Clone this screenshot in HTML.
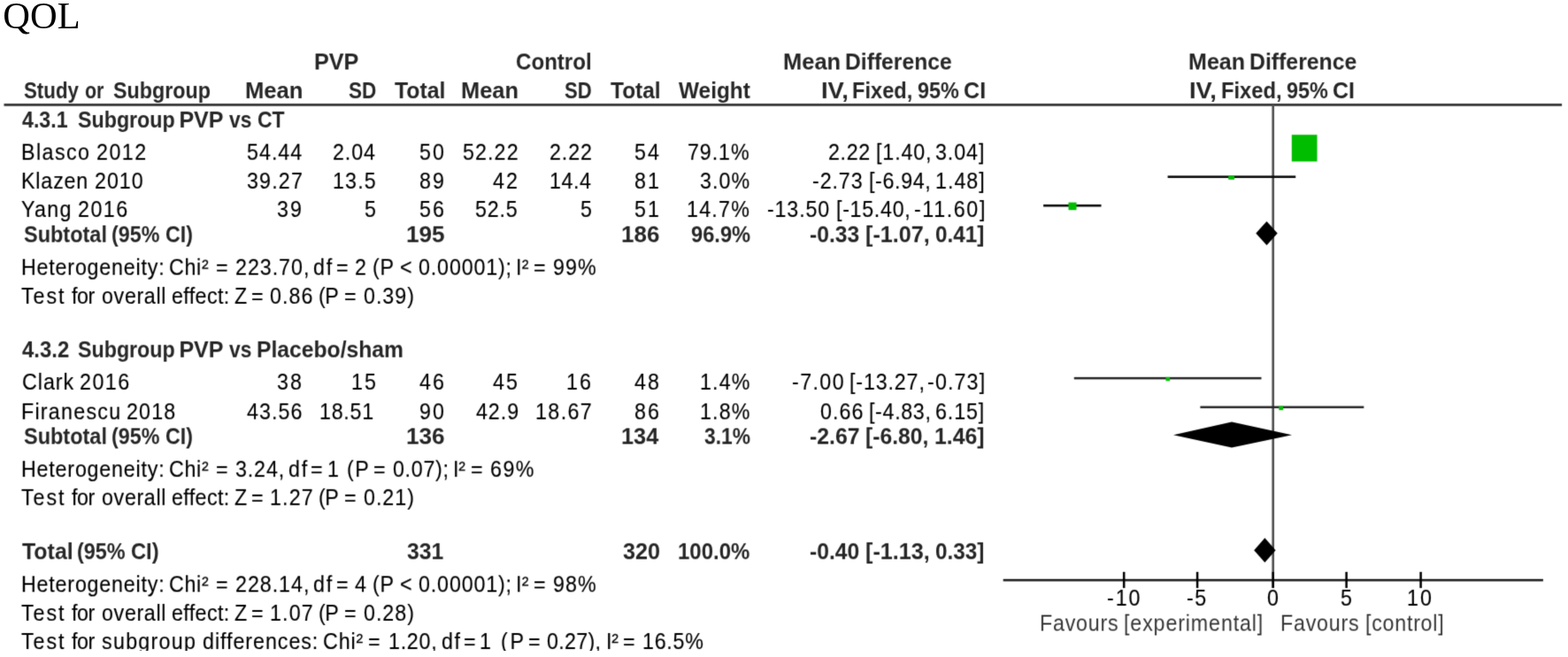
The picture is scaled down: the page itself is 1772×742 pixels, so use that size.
<!DOCTYPE html>
<html lang="en">
<head>
<meta charset="utf-8">
<title>QOL forest plot</title>
<style>
html,body{margin:0;padding:0;background:#fff;}
body{width:1772px;height:742px;overflow:hidden;}
#sheet{position:relative;width:1772px;height:742px;overflow:hidden;background:#fff;}
.title{position:absolute;z-index:2;margin:0;left:3.3px;top:-5px;font:normal 42.5px/46px "Liberation Serif","Times New Roman",serif;color:#000;white-space:nowrap;}
#fig{position:absolute;left:0;top:0;width:1772px;height:735px;overflow:hidden;background:#fff;font-family:"Liberation Sans",Arial,Helvetica,sans-serif;font-size:25px;line-height:30px;}
#fig svg{position:absolute;left:0;top:0;}
.g{position:absolute;left:0;top:0;width:0;height:0;}
.g span{position:absolute;white-space:pre;transform-origin:0 0;color:#000;-webkit-text-stroke:0.15px #000;}
.g span.b{font-weight:bold;font-size:25px;color:#262626;-webkit-text-stroke:0;}
.g span.axis{color:#000;-webkit-text-stroke-color:#000;}
.g span.fav{color:#363636;-webkit-text-stroke:0;}
.defs{position:absolute;left:0;top:0;}
.layer{position:absolute;left:0;top:0;width:1772px;height:742px;}
.layer.n{filter:url(#soft);}
.layer.h{filter:url(#softh);}

</style>
</head>
<body>
<svg class="defs" width="0" height="0" aria-hidden="true"><defs>
<filter id="soft" x="0" y="0" width="100%" height="100%" color-interpolation-filters="sRGB">
<feConvolveMatrix order="3" kernelMatrix="1 6 1 6 36 6 1 6 1" divisor="64" edgeMode="none" preserveAlpha="false"/>
</filter>
<filter id="softh" x="0" y="0" width="100%" height="100%" color-interpolation-filters="sRGB">
<feConvolveMatrix order="3" kernelMatrix="0 0 0 1 6 1 1 6 1" divisor="16" edgeMode="none" preserveAlpha="false"/>
</filter></defs></svg>
<div id="sheet">
<h1 class="title">QOL</h1>
<div id="fig">
<div class="layer n">
<svg width="1772" height="742" viewBox="0 0 1772 742" role="img" aria-label="Forest plot">
<rect x="4.5" y="117" width="1760.6" height="2.8" fill="#363636"/>
<rect x="1437.4" y="118" width="2.6" height="546" fill="#4e4e4e"/>
<rect x="1133.7" y="653.9" width="610.2" height="2.6" fill="#222"/>
<g fill="#000">
<rect x="1268.95" y="645.9" width="2.5" height="18.2"/>
<rect x="1351.85" y="645.9" width="2.5" height="18.2"/>
<rect x="1437.45" y="645.9" width="2.5" height="18.2"/>
<rect x="1520.35" y="645.9" width="2.5" height="18.2"/>
<rect x="1604.35" y="645.9" width="2.5" height="18.2"/>
</g>
<g fill="#0a0a0a">
<rect x="1319.6" y="198.4" width="144.6" height="2.6"/>
<rect x="1179.1" y="230.9" width="65.4" height="2.6"/>
</g>
<g fill="#262626">
<rect x="1213.8" y="425.9" width="211.7" height="2.5"/>
<rect x="1356.4" y="458.6" width="184.9" height="2.5"/>
</g>
<g fill="#00bd00">
<rect x="1459.8" y="152.2" width="28.7" height="30.2"/>
<rect x="1388.2" y="198.4" width="6.8" height="4.4"/>
<rect x="1207.5" y="228.6" width="9" height="8.6"/>
<rect x="1317.5" y="425.8" width="4.6" height="4.4"/>
<rect x="1445.3" y="458.6" width="4.8" height="4.6"/>
</g>
<g fill="#000">
<polygon points="1419.3,263.4 1431.5,249.9 1443.7,263.4 1431.5,276.9"/>
<polygon points="1326,491.3 1392,476.6 1460,491.3 1392,505.5"/>
<polygon points="1417.2,621.4 1429.4,607.5 1441.6,621.4 1429.4,635.3"/>
</g>
</svg>

</div>
<div class="layer h">
<div class="g"><span class="b" style="left:355.09px;top:54px;transform:scaleX(1.0064)">PVP</span> <span class="b" style="left:582.54px;top:54px;transform:scaleX(0.9640)">Control</span> <span class="b" style="left:884.96px;top:54px;transform:scaleX(1.0200)">Mean</span> <span class="b" style="left:955.43px;top:54px;transform:scaleX(0.9866)">Difference</span> <span class="b" style="left:1342.79px;top:54px;transform:scaleX(1.0033)">Mean</span> <span class="b" style="left:1412.22px;top:54px;transform:scaleX(0.9924)">Difference</span></div>
</div>
<div class="layer n">
<div class="g"><span class="b" style="left:26.71px;top:87px;transform:scaleX(0.8912)">Study</span> <span class="b" style="left:96.15px;top:87px;transform:scaleX(0.8542)">or</span> <span class="b" style="left:128.27px;top:87px;transform:scaleX(0.9310)">Subgroup</span> <span class="b" style="left:277.15px;top:87px;transform:scaleX(1.0250)">Mean</span> <span class="b" style="left:394.10px;top:87px;transform:scaleX(0.9000)">SD</span> <span class="b" style="left:446.10px;top:87px;transform:scaleX(0.9911)">Total</span> <span class="b" style="left:521.17px;top:87px;transform:scaleX(1.0167)">Mean</span> <span class="b" style="left:638.22px;top:87px;transform:scaleX(0.8818)">SD</span> <span class="b" style="left:690.40px;top:87px;transform:scaleX(0.9786)">Total</span> <span class="b" style="left:767.00px;top:87px;transform:scaleX(0.9759)">Weight</span> <span class="b" style="left:928.11px;top:87px;transform:scaleX(1.0960)">IV,</span> <span class="b" style="left:963.01px;top:87px;transform:scaleX(0.9449)">Fixed,</span> <span class="b" style="left:1037.06px;top:87px;transform:scaleX(0.9375)">95%</span> <span class="b" style="left:1089.10px;top:87px">CI</span> <span class="b" style="left:1344.32px;top:87px;transform:scaleX(1.0920)">IV,</span> <span class="b" style="left:1379.50px;top:87px;transform:scaleX(0.9507)">Fixed,</span> <span class="b" style="left:1453.86px;top:87px;transform:scaleX(0.9375)">95%</span> <span class="b" style="left:1506.00px;top:87px;transform:scaleX(0.9955)">CI</span></div>
<div class="g"><span class="b" style="left:25.00px;top:120px;transform:scaleX(0.9273)">4.3.1</span> <span class="b" style="left:87.57px;top:120px;transform:scaleX(0.9293)">Subgroup</span> <span class="b" style="left:202.40px;top:120px">PVP</span> <span class="b" style="left:259.20px;top:120px;transform:scaleX(0.9111)">vs</span> <span class="b" style="left:290.78px;top:120px;transform:scaleX(0.9188)">CT</span></div>
</div>
<div class="layer h">
<div class="g"><span class="r" style="left:24.44px;top:156px;letter-spacing:1.535px;transform:scaleX(0.9300)">Blasco</span> <span class="r" style="left:108.67px;top:156px;letter-spacing:1.616px;transform:scaleX(0.9300)">2012</span></div>
<div class="g"><span class="r" style="left:278.57px;top:156px;letter-spacing:1.094px;transform:scaleX(0.9300)">54.44</span></div>
<div class="g"><span class="r" style="left:376.37px;top:156px;letter-spacing:0.964px;transform:scaleX(0.9300)">2.04</span></div>
<div class="g"><span class="r" style="left:473.87px;top:156px;letter-spacing:2.280px;transform:scaleX(0.9300)">50</span></div>
<div class="g"><span class="r" style="left:522.97px;top:156px;letter-spacing:1.183px;transform:scaleX(0.9300)">52.22</span></div>
<div class="g"><span class="r" style="left:621.17px;top:156px;letter-spacing:0.975px;transform:scaleX(0.9300)">2.22</span></div>
<div class="g"><span class="r" style="left:716.87px;top:156px;letter-spacing:2.280px;transform:scaleX(0.9300)">54</span></div>
<div class="g"><span class="r" style="left:777.47px;top:156px;letter-spacing:1.003px;transform:scaleX(0.9300)">79.1%</span></div>
<div class="g"><span class="r" style="left:935.97px;top:156px;letter-spacing:0.688px;transform:scaleX(0.9300)">2.22</span> <span class="r" style="left:989.74px;top:156px;letter-spacing:0.938px;transform:scaleX(0.9300)">[1.40,</span> <span class="r" style="left:1057.27px;top:156px;letter-spacing:0.997px;transform:scaleX(0.9300)">3.04]</span></div>
</div>
<div class="layer n">
<div class="g"><span class="r" style="left:24.44px;top:189px;letter-spacing:0.905px;transform:scaleX(0.9300)">Klazen</span> <span class="r" style="left:107.27px;top:189px;letter-spacing:1.032px;transform:scaleX(0.9300)">2010</span></div>
<div class="g"><span class="r" style="left:278.87px;top:189px;letter-spacing:1.263px;transform:scaleX(0.9300)">39.27</span></div>
<div class="g"><span class="r" style="left:375.64px;top:189px;letter-spacing:1.226px;transform:scaleX(0.9300)">13.5</span></div>
<div class="g"><span class="r" style="left:473.87px;top:189px;letter-spacing:2.280px;transform:scaleX(0.9300)">89</span></div>
<div class="g"><span class="r" style="left:556.87px;top:189px;letter-spacing:2.280px;transform:scaleX(0.9300)">42</span></div>
<div class="g"><span class="r" style="left:620.64px;top:189px;letter-spacing:0.616px;transform:scaleX(0.9300)">14.4</span></div>
<div class="g"><span class="r" style="left:716.87px;top:189px;letter-spacing:2.280px;transform:scaleX(0.9300)">81</span></div>
<div class="g"><span class="r" style="left:790.97px;top:189px;letter-spacing:1.165px;transform:scaleX(0.9300)">3.0%</span></div>
<div class="g"><span class="r" style="left:917.97px;top:189px;letter-spacing:0.981px;transform:scaleX(0.9300)">-2.73</span> <span class="r" style="left:981.84px;top:189px;letter-spacing:0.697px;transform:scaleX(0.9300)">[-6.94,</span> <span class="r" style="left:1056.94px;top:189px;letter-spacing:1.086px;transform:scaleX(0.9300)">1.48]</span></div>
<div class="g"><span class="r" style="left:24.37px;top:221px;letter-spacing:1.391px;transform:scaleX(0.9300)">Yang</span> <span class="r" style="left:88.37px;top:221px;letter-spacing:1.616px;transform:scaleX(0.9300)">2016</span></div>
<div class="g"><span class="r" style="left:313.07px;top:221px;letter-spacing:2.280px;transform:scaleX(0.9300)">39</span></div>
<div class="g"><span class="r" style="left:411.61px;top:221px;transform:scaleX(0.9300)">5</span></div>
<div class="g"><span class="r" style="left:473.87px;top:221px;letter-spacing:2.280px;transform:scaleX(0.9300)">56</span></div>
<div class="g"><span class="r" style="left:537.07px;top:221px;letter-spacing:0.857px;transform:scaleX(0.9300)">52.5</span></div>
<div class="g"><span class="r" style="left:655.51px;top:221px;transform:scaleX(0.9300)">5</span></div>
<div class="g"><span class="r" style="left:716.87px;top:221px;letter-spacing:2.280px;transform:scaleX(0.9300)">51</span></div>
<div class="g"><span class="r" style="left:776.24px;top:221px;letter-spacing:1.333px;transform:scaleX(0.9300)">14.7%</span></div>
<div class="g"><span class="r" style="left:866.67px;top:221px;letter-spacing:0.910px;transform:scaleX(0.9300)">-13.50</span> <span class="r" style="left:945.04px;top:221px;letter-spacing:0.753px;transform:scaleX(0.9300)">[-15.40,</span> <span class="r" style="left:1032.67px;top:221px;letter-spacing:1.740px;transform:scaleX(0.9300)">-11.60]</span></div>
</div>
<div class="layer h">
<div class="g"><span class="b" style="left:26.66px;top:249px;transform:scaleX(0.9392)">Subtotal</span> <span class="b" style="left:126.27px;top:249px;transform:scaleX(0.9316)">(95%</span> <span class="b" style="left:186.57px;top:249px;transform:scaleX(0.9258)">CI)</span></div>
<div class="g"><span class="b" style="left:459.01px;top:249px;transform:scaleX(1.0462)">195</span></div>
<div class="g"><span class="b" style="left:702.42px;top:249px;transform:scaleX(1.0385)">186</span></div>
<div class="g"><span class="b" style="left:780.55px;top:249px;transform:scaleX(0.9478)">96.9%</span></div>
<div class="g"><span class="b" style="left:914.91px;top:249px;transform:scaleX(0.9873)">-0.33</span> <span class="b" style="left:978.29px;top:249px;transform:scaleX(1.0086)">[-1.07,</span> <span class="b" style="left:1056.83px;top:249px;transform:scaleX(0.9709)">0.41]</span></div>
<div class="g"><span class="r" style="left:24.44px;top:286px;letter-spacing:0.865px;transform:scaleX(0.9300)">Heterogeneity:</span> <span class="r" style="left:191.27px;top:286px;letter-spacing:0.746px;transform:scaleX(0.9300)">Chi&sup2;</span> <span class="r" style="left:243.94px;top:286px;transform:scaleX(0.9300)">=</span> <span class="r" style="left:265.67px;top:286px;letter-spacing:1.039px;transform:scaleX(0.9300)">223.70,</span> <span class="r" style="left:354.37px;top:286px;letter-spacing:1.828px;transform:scaleX(0.9300)">df</span> <span class="r" style="left:379.79px;top:286px;transform:scaleX(0.9300)">=</span> <span class="r" style="left:401.44px;top:286px;transform:scaleX(0.9300)">2</span> <span class="r" style="left:421.24px;top:286px;letter-spacing:0.796px;transform:scaleX(0.9300)">(P</span> <span class="r" style="left:452.49px;top:286px;transform:scaleX(0.9300)">&lt;</span> <span class="r" style="left:472.57px;top:286px;letter-spacing:0.919px;transform:scaleX(0.9300)">0.00001);</span> <span class="r" style="left:583.24px;top:286px;letter-spacing:0.441px;transform:scaleX(0.9300)">I&sup2;</span> <span class="r" style="left:603.49px;top:286px;transform:scaleX(0.9300)">=</span> <span class="r" style="left:625.47px;top:286px;letter-spacing:1.161px;transform:scaleX(0.9300)">99%</span></div>
</div>
<div class="layer n">
<div class="g"><span class="r" style="left:23.97px;top:319px;letter-spacing:2.097px;transform:scaleX(0.9300)">Test</span> <span class="r" style="left:80.50px;top:319px;letter-spacing:-0.522px;transform:scaleX(0.9300)">for</span> <span class="r" style="left:114.77px;top:319px;letter-spacing:0.711px;transform:scaleX(0.9300)">overall</span> <span class="r" style="left:193.97px;top:319px;letter-spacing:0.427px;transform:scaleX(0.9300)">effect:</span> <span class="r" style="left:264.52px;top:319px;transform:scaleX(0.9300)">Z</span> <span class="r" style="left:284.29px;top:319px;transform:scaleX(0.9300)">=</span> <span class="r" style="left:305.37px;top:319px;letter-spacing:1.118px;transform:scaleX(0.9300)">0.86</span> <span class="r" style="left:360.24px;top:319px;letter-spacing:-0.602px;transform:scaleX(0.9300)">(P</span> <span class="r" style="left:389.29px;top:319px;transform:scaleX(0.9300)">=</span> <span class="r" style="left:411.27px;top:319px;letter-spacing:1.043px;transform:scaleX(0.9300)">0.39)</span></div>
</div>
<div class="layer h">
<div class="g"><span class="b" style="left:25.00px;top:379px;transform:scaleX(0.9564)">4.3.2</span> <span class="b" style="left:87.57px;top:379px;transform:scaleX(0.9293)">Subgroup</span> <span class="b" style="left:202.40px;top:379px">PVP</span> <span class="b" style="left:259.20px;top:379px;transform:scaleX(0.9111)">vs</span> <span class="b" style="left:290.33px;top:379px;transform:scaleX(0.9873)">Placebo/sham</span></div>
</div>
<div class="layer n">
<div class="g"><span class="r" style="left:24.97px;top:416px;letter-spacing:1.046px;transform:scaleX(0.9300)">Clark</span> <span class="r" style="left:90.37px;top:416px;letter-spacing:1.616px;transform:scaleX(0.9300)">2016</span></div>
<div class="g"><span class="r" style="left:313.07px;top:416px;letter-spacing:2.280px;transform:scaleX(0.9300)">38</span></div>
<div class="g"><span class="r" style="left:396.54px;top:416px;letter-spacing:2.204px;transform:scaleX(0.9300)">15</span></div>
<div class="g"><span class="r" style="left:473.87px;top:416px;letter-spacing:2.280px;transform:scaleX(0.9300)">46</span></div>
<div class="g"><span class="r" style="left:556.87px;top:416px;letter-spacing:2.280px;transform:scaleX(0.9300)">45</span></div>
<div class="g"><span class="r" style="left:640.44px;top:416px;letter-spacing:2.204px;transform:scaleX(0.9300)">16</span></div>
<div class="g"><span class="r" style="left:716.87px;top:416px;letter-spacing:2.280px;transform:scaleX(0.9300)">48</span></div>
<div class="g"><span class="r" style="left:790.84px;top:416px;letter-spacing:1.211px;transform:scaleX(0.9300)">1.4%</span></div>
<div class="g"><span class="r" style="left:895.27px;top:416px;letter-spacing:1.519px;transform:scaleX(0.9300)">-7.00</span> <span class="r" style="left:959.54px;top:416px;letter-spacing:0.922px;transform:scaleX(0.9300)">[-13.27,</span> <span class="r" style="left:1047.87px;top:416px;letter-spacing:1.219px;transform:scaleX(0.9300)">-0.73]</span></div>
</div>
<div class="layer h">
<div class="g"><span class="r" style="left:24.44px;top:449px;letter-spacing:1.347px;transform:scaleX(0.9300)">Firanescu</span> <span class="r" style="left:143.17px;top:449px;letter-spacing:1.283px;transform:scaleX(0.9300)">2018</span></div>
<div class="g"><span class="r" style="left:279.27px;top:449px;letter-spacing:1.156px;transform:scaleX(0.9300)">43.56</span></div>
<div class="g"><span class="r" style="left:361.14px;top:449px;letter-spacing:0.788px;transform:scaleX(0.9300)">18.51</span></div>
<div class="g"><span class="r" style="left:473.87px;top:449px;letter-spacing:2.280px;transform:scaleX(0.9300)">90</span></div>
<div class="g"><span class="r" style="left:537.57px;top:449px;letter-spacing:1.011px;transform:scaleX(0.9300)">42.9</span></div>
<div class="g"><span class="r" style="left:605.34px;top:449px;letter-spacing:1.487px;transform:scaleX(0.9300)">18.67</span></div>
<div class="g"><span class="r" style="left:716.87px;top:449px;letter-spacing:2.280px;transform:scaleX(0.9300)">86</span></div>
<div class="g"><span class="r" style="left:790.84px;top:449px;letter-spacing:1.211px;transform:scaleX(0.9300)">1.8%</span></div>
<div class="g"><span class="r" style="left:927.47px;top:449px;letter-spacing:1.118px;transform:scaleX(0.9300)">0.66</span> <span class="r" style="left:981.64px;top:449px;letter-spacing:0.715px;transform:scaleX(0.9300)">[-4.83,</span> <span class="r" style="left:1057.37px;top:449px;letter-spacing:0.970px;transform:scaleX(0.9300)">6.15]</span></div>
<div class="g"><span class="b" style="left:26.66px;top:477px;transform:scaleX(0.9392)">Subtotal</span> <span class="b" style="left:126.27px;top:477px;transform:scaleX(0.9316)">(95%</span> <span class="b" style="left:186.57px;top:477px;transform:scaleX(0.9258)">CI)</span></div>
<div class="g"><span class="b" style="left:459.01px;top:477px;transform:scaleX(1.0462)">136</span></div>
<div class="g"><span class="b" style="left:702.48px;top:477px;transform:scaleX(1.0125)">134</span></div>
<div class="g"><span class="b" style="left:795.79px;top:477px;transform:scaleX(0.9127)">3.1%</span></div>
<div class="g"><span class="b" style="left:915.01px;top:477px;transform:scaleX(0.9927)">-2.67</span> <span class="b" style="left:978.31px;top:477px;transform:scaleX(0.9871)">[-6.80,</span> <span class="b" style="left:1055.61px;top:477px;transform:scaleX(0.9926)">1.46]</span></div>
<div class="g"><span class="r" style="left:24.44px;top:514px;letter-spacing:0.865px;transform:scaleX(0.9300)">Heterogeneity:</span> <span class="r" style="left:191.27px;top:514px;letter-spacing:0.746px;transform:scaleX(0.9300)">Chi&sup2;</span> <span class="r" style="left:243.94px;top:514px;transform:scaleX(0.9300)">=</span> <span class="r" style="left:265.67px;top:514px;letter-spacing:0.925px;transform:scaleX(0.9300)">3.24,</span> <span class="r" style="left:325.97px;top:514px;letter-spacing:1.828px;transform:scaleX(0.9300)">df</span> <span class="r" style="left:351.29px;top:514px;transform:scaleX(0.9300)">=</span> <span class="r" style="left:370.47px;top:514px;transform:scaleX(0.9300)">1</span> <span class="r" style="left:392.04px;top:514px;letter-spacing:1.656px;transform:scaleX(0.9300)">(P</span> <span class="r" style="left:422.44px;top:514px;transform:scaleX(0.9300)">=</span> <span class="r" style="left:444.37px;top:514px;letter-spacing:0.746px;transform:scaleX(0.9300)">0.07);</span> <span class="r" style="left:512.14px;top:514px;letter-spacing:-0.312px;transform:scaleX(0.9300)">I&sup2;</span> <span class="r" style="left:532.39px;top:514px;transform:scaleX(0.9300)">=</span> <span class="r" style="left:553.77px;top:514px;letter-spacing:1.591px;transform:scaleX(0.9300)">69%</span></div>
<div class="g"><span class="r" style="left:23.97px;top:546px;letter-spacing:2.097px;transform:scaleX(0.9300)">Test</span> <span class="r" style="left:80.50px;top:546px;letter-spacing:-0.522px;transform:scaleX(0.9300)">for</span> <span class="r" style="left:114.77px;top:546px;letter-spacing:0.711px;transform:scaleX(0.9300)">overall</span> <span class="r" style="left:193.97px;top:546px;letter-spacing:0.427px;transform:scaleX(0.9300)">effect:</span> <span class="r" style="left:264.52px;top:546px;transform:scaleX(0.9300)">Z</span> <span class="r" style="left:284.29px;top:546px;transform:scaleX(0.9300)">=</span> <span class="r" style="left:304.94px;top:546px;letter-spacing:1.272px;transform:scaleX(0.9300)">1.27</span> <span class="r" style="left:360.24px;top:546px;letter-spacing:-0.602px;transform:scaleX(0.9300)">(P</span> <span class="r" style="left:389.29px;top:546px;transform:scaleX(0.9300)">=</span> <span class="r" style="left:411.27px;top:546px;letter-spacing:1.043px;transform:scaleX(0.9300)">0.21)</span></div>
<div class="g"><span class="b" style="left:25.00px;top:607px;transform:scaleX(0.9964)">Total</span> <span class="b" style="left:87.26px;top:607px;transform:scaleX(0.9368)">(95%</span> <span class="b" style="left:147.85px;top:607px;transform:scaleX(0.9484)">CI)</span></div>
<div class="g"><span class="b" style="left:459.61px;top:607px;transform:scaleX(0.9900)">331</span></div>
<div class="g"><span class="b" style="left:703.69px;top:607px;transform:scaleX(1.0075)">320</span></div>
<div class="g"><span class="b" style="left:766.38px;top:607px;transform:scaleX(0.9585)">100.0%</span></div>
<div class="g"><span class="b" style="left:914.91px;top:607px;transform:scaleX(0.9873)">-0.40</span> <span class="b" style="left:978.29px;top:607px;transform:scaleX(1.0086)">[-1.13,</span> <span class="b" style="left:1056.83px;top:607px;transform:scaleX(0.9709)">0.33]</span></div>
<div class="g"><span class="r" style="left:24.44px;top:644px;letter-spacing:0.865px;transform:scaleX(0.9300)">Heterogeneity:</span> <span class="r" style="left:191.27px;top:644px;letter-spacing:0.746px;transform:scaleX(0.9300)">Chi&sup2;</span> <span class="r" style="left:243.94px;top:644px;transform:scaleX(0.9300)">=</span> <span class="r" style="left:265.67px;top:644px;letter-spacing:1.039px;transform:scaleX(0.9300)">228.14,</span> <span class="r" style="left:354.37px;top:644px;letter-spacing:1.828px;transform:scaleX(0.9300)">df</span> <span class="r" style="left:379.79px;top:644px;transform:scaleX(0.9300)">=</span> <span class="r" style="left:401.44px;top:644px;transform:scaleX(0.9300)">4</span> <span class="r" style="left:421.24px;top:644px;letter-spacing:0.796px;transform:scaleX(0.9300)">(P</span> <span class="r" style="left:452.49px;top:644px;transform:scaleX(0.9300)">&lt;</span> <span class="r" style="left:472.57px;top:644px;letter-spacing:0.919px;transform:scaleX(0.9300)">0.00001);</span> <span class="r" style="left:583.24px;top:644px;letter-spacing:0.441px;transform:scaleX(0.9300)">I&sup2;</span> <span class="r" style="left:603.49px;top:644px;transform:scaleX(0.9300)">=</span> <span class="r" style="left:625.47px;top:644px;letter-spacing:1.161px;transform:scaleX(0.9300)">98%</span></div>
</div>
<div class="layer n">
<div class="g"><span class="r" style="left:23.97px;top:677px;letter-spacing:2.097px;transform:scaleX(0.9300)">Test</span> <span class="r" style="left:80.50px;top:677px;letter-spacing:-0.522px;transform:scaleX(0.9300)">for</span> <span class="r" style="left:114.77px;top:677px;letter-spacing:0.711px;transform:scaleX(0.9300)">overall</span> <span class="r" style="left:193.97px;top:677px;letter-spacing:0.427px;transform:scaleX(0.9300)">effect:</span> <span class="r" style="left:264.52px;top:677px;transform:scaleX(0.9300)">Z</span> <span class="r" style="left:284.29px;top:677px;transform:scaleX(0.9300)">=</span> <span class="r" style="left:304.94px;top:677px;letter-spacing:1.272px;transform:scaleX(0.9300)">1.07</span> <span class="r" style="left:360.24px;top:677px;letter-spacing:-0.602px;transform:scaleX(0.9300)">(P</span> <span class="r" style="left:389.29px;top:677px;transform:scaleX(0.9300)">=</span> <span class="r" style="left:411.27px;top:677px;letter-spacing:1.043px;transform:scaleX(0.9300)">0.28)</span></div>
<div class="g"><span class="r" style="left:23.97px;top:709px;letter-spacing:2.097px;transform:scaleX(0.9300)">Test</span> <span class="r" style="left:80.50px;top:709px;letter-spacing:-0.522px;transform:scaleX(0.9300)">for</span> <span class="r" style="left:114.77px;top:709px;letter-spacing:1.389px;transform:scaleX(0.9300)">subgroup</span> <span class="r" style="left:228.57px;top:709px;letter-spacing:1.031px;transform:scaleX(0.9300)">differences:</span> <span class="r" style="left:364.57px;top:709px;letter-spacing:0.961px;transform:scaleX(0.9300)">Chi&sup2;</span> <span class="r" style="left:416.04px;top:709px;transform:scaleX(0.9300)">=</span> <span class="r" style="left:438.54px;top:709px;letter-spacing:0.798px;transform:scaleX(0.9300)">1.20,</span> <span class="r" style="left:499.27px;top:709px;letter-spacing:1.613px;transform:scaleX(0.9300)">df</span> <span class="r" style="left:524.49px;top:709px;transform:scaleX(0.9300)">=</span> <span class="r" style="left:542.02px;top:709px;transform:scaleX(0.9300)">1</span> <span class="r" style="left:566.04px;top:709px;letter-spacing:3.054px;transform:scaleX(0.9300)">(P</span> <span class="r" style="left:596.74px;top:709px;transform:scaleX(0.9300)">=</span> <span class="r" style="left:617.77px;top:709px;letter-spacing:0.338px;transform:scaleX(0.9300)">0.27),</span> <span class="r" style="left:684.54px;top:709px;letter-spacing:-0.097px;transform:scaleX(0.9300)">I&sup2;</span> <span class="r" style="left:703.99px;top:709px;transform:scaleX(0.9300)">=</span> <span class="r" style="left:726.34px;top:709px;letter-spacing:0.796px;transform:scaleX(0.9300)">16.5%</span></div>
<div class="g"><span class="r axis" style="left:1251.37px;top:660px;letter-spacing:2.086px;transform:scaleX(0.9300)">-10</span> <span class="r axis" style="left:1341.47px;top:660px;letter-spacing:1.720px;transform:scaleX(0.9300)">-5</span> <span class="r axis" style="left:1432.09px;top:660px;transform:scaleX(0.9300)">0</span> <span class="r axis" style="left:1515.24px;top:660px;transform:scaleX(0.9300)">5</span> <span class="r axis" style="left:1590.04px;top:660px;letter-spacing:2.204px;transform:scaleX(0.9300)">10</span></div>
</div>
<div class="layer h">
<div class="g"><span class="r fav" style="left:1174.64px;top:688px;letter-spacing:0.841px;transform:scaleX(0.9300)">Favours</span> <span class="r fav" style="left:1270.04px;top:688px;letter-spacing:0.935px;transform:scaleX(0.9300)">[experimental]</span> <span class="r fav" style="left:1447.14px;top:688px;letter-spacing:0.841px;transform:scaleX(0.9300)">Favours</span> <span class="r fav" style="left:1542.54px;top:688px;letter-spacing:0.800px;transform:scaleX(0.9300)">[control]</span></div>
</div>
</div>
</div>
</body>
</html>
